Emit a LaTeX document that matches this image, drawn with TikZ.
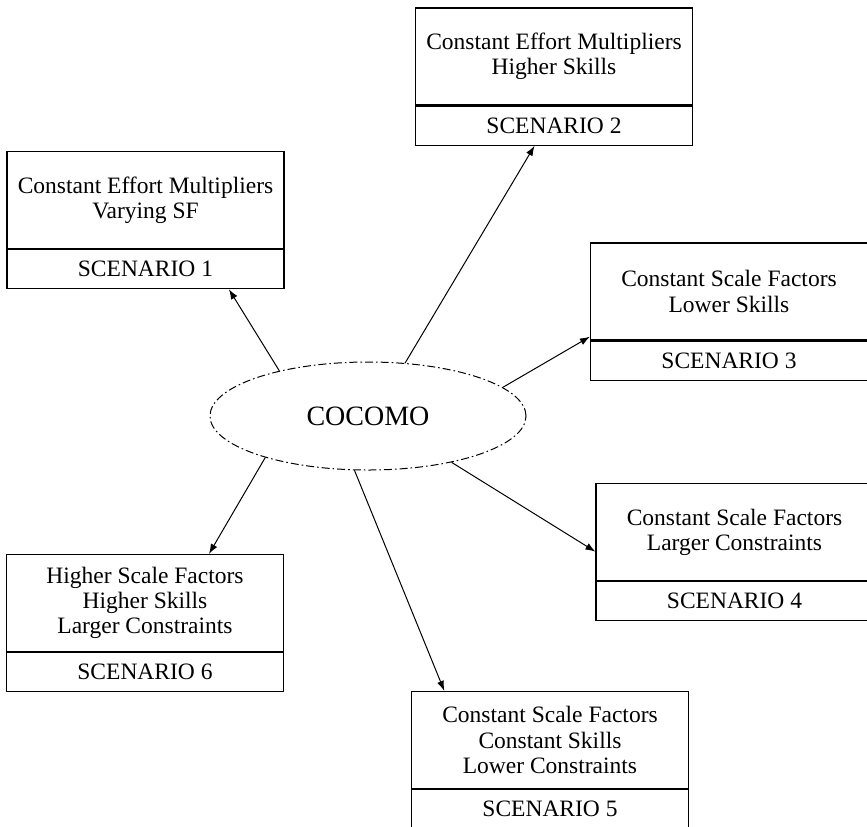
\documentclass[tikz,border=0pt]{standalone}
\usepackage{fontspec}
\setmainfont{Liberation Serif}
\usetikzlibrary{calc, positioning, arrows.meta, shapes.geometric}

\begin{document}
\begin{tikzpicture}[x=0.5pt, y=-0.5pt,
    box/.style={draw, line width=0.6pt, inner sep=0pt, minimum width=138.5pt,
      minimum height=48.5pt, align=center, font=\fontsize{11.75}{12.6}\selectfont},
    tag/.style={box, minimum height=19.5pt},
    link/.style={-{Latex[length=5pt, width=3.6pt]}, line width=0.5pt}]
  \useasboundingbox (0, 0) rectangle (867, 826);

  \node[ellipse, draw, line width=0.5pt, dash pattern=on 4pt off 1.5pt on 0.8pt off 1.5pt,
    minimum width=158pt, minimum height=54pt, inner sep=0pt,
    font=\fontsize{14}{16}\selectfont] (cocomo) at (368, 416) {COCOMO};

  \node[box] (s1) at (145.5, 200) {Constant Effort Multipliers\\Varying SF};
  \node[tag, below=0pt of s1] (s1b) {SCENARIO 1};
  \node[box] (s2) at (554, 56.5) {Constant Effort Multipliers\\Higher Skills};
  \node[tag, below=0pt of s2] (s2b) {SCENARIO 2};
  \node[box] (s3) at (729, 291.5) {Constant Scale Factors\\Lower Skills};
  \node[tag, below=0pt of s3] (s3b) {SCENARIO 3};
  \node[box] (s4) at (734.5, 532) {Constant Scale Factors\\Larger Constraints};
  \node[tag, below=0pt of s4] (s4b) {SCENARIO 4};
  \node[box] (s5) at (550, 740) {Constant Scale Factors\\Constant Skills\\Lower Constraints};
  \node[tag, below=0pt of s5] (s5b) {SCENARIO 5};
  \node[box] (s6) at (145, 603) {Higher Scale Factors\\Higher Skills\\Larger Constraints};
  \node[tag, below=0pt of s6] (s6b) {SCENARIO 6};

  \coordinate (t1) at ($(s1b.south west)!0.80!(s1b.south east)$);
  \coordinate (t2) at ($(s2b.south west)!0.43!(s2b.south east)$);
  \coordinate (t3) at ($(s3.north west)!0.96!(s3.south west)$);
  \coordinate (t4) at ($(s4.north west)!0.70!(s4.south west)$);
  \coordinate (t5) at ($(s5.north west)!0.12!(s5.north east)$);
  \coordinate (t6) at ($(s6.north west)!0.73!(s6.north east)$);

  \draw[link] (cocomo.153) -- (t1);
  \draw[link] (cocomo.55) -- (t2);
  \draw[link] (cocomo.12) -- (t3);
  \draw[link] (cocomo.-29) -- (t4);
  \draw[link] (cocomo.-104) -- (t5);
  \draw[link] (cocomo.202) -- (t6);
\end{tikzpicture}
\end{document}
